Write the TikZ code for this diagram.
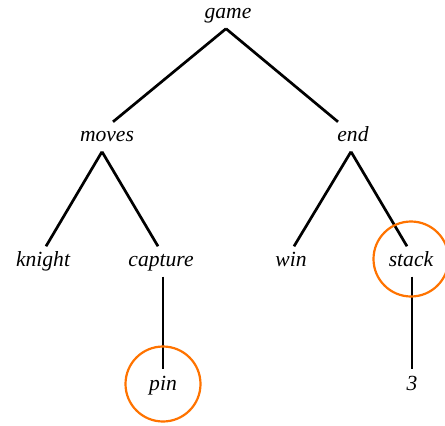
\documentclass[tikz,border=0pt]{standalone}
\usepackage{fontspec}
\setmainfont{Liberation Serif}
\begin{document}
\begin{tikzpicture}[x=1pt,y=-1pt,
  word/.style={font=\fontsize{21.6}{24}\selectfont\itshape, inner xsep=0pt, inner ysep=4pt,
    text height=16.5pt, text depth=6.5pt, anchor=center},
  branch/.style={line width=2.7pt, black},
  ring/.style={draw=orange!90!red, line width=2.2pt, circle, minimum size=75pt, inner sep=0pt}]
\useasboundingbox (0,0) rectangle (445,426);
\node[word] (game) at (228,13) {game};
\node[word] (moves) at (107,136) {moves};
\node[word] (end) at (353,136) {end};
\node[word] (knight) at (43,261) {knight};
\node[word] (capture) at (161,261) {capture};
\node[word] (win) at (291,261) {win};
\node[word] (stack) at (411,261) {stack};
\node[word] (pin) at (163,385) {pin};
\node[word] (three) at (412,385) {3};
\draw[branch] ([xshift=-2pt]game.south) -- ([xshift=6pt,yshift=-1.5pt]moves.north);
\draw[branch] ([xshift=-2pt]game.south) -- ([xshift=-15pt,yshift=-1.5pt]end.north);
\draw[branch] ([xshift=-5pt]moves.south) -- ([xshift=3pt,yshift=-1pt]knight.north);
\draw[branch] ([xshift=-5pt]moves.south) -- ([xshift=-3pt,yshift=-1pt]capture.north);
\draw[branch] ([xshift=-2pt]end.south) -- ([xshift=3pt,yshift=-1pt]win.north);
\draw[branch] ([xshift=-2pt]end.south) -- ([xshift=-4pt,yshift=-1pt]stack.north);
\draw[branch] (capture.south -| pin.north) -- (pin.north);
\draw[branch] (stack.south -| three.north) -- (three.north);
\node[ring] (ringstack) at (411,259) {};
\node[ring] (ringpin) at (163,384) {};
\end{tikzpicture}
\end{document}
